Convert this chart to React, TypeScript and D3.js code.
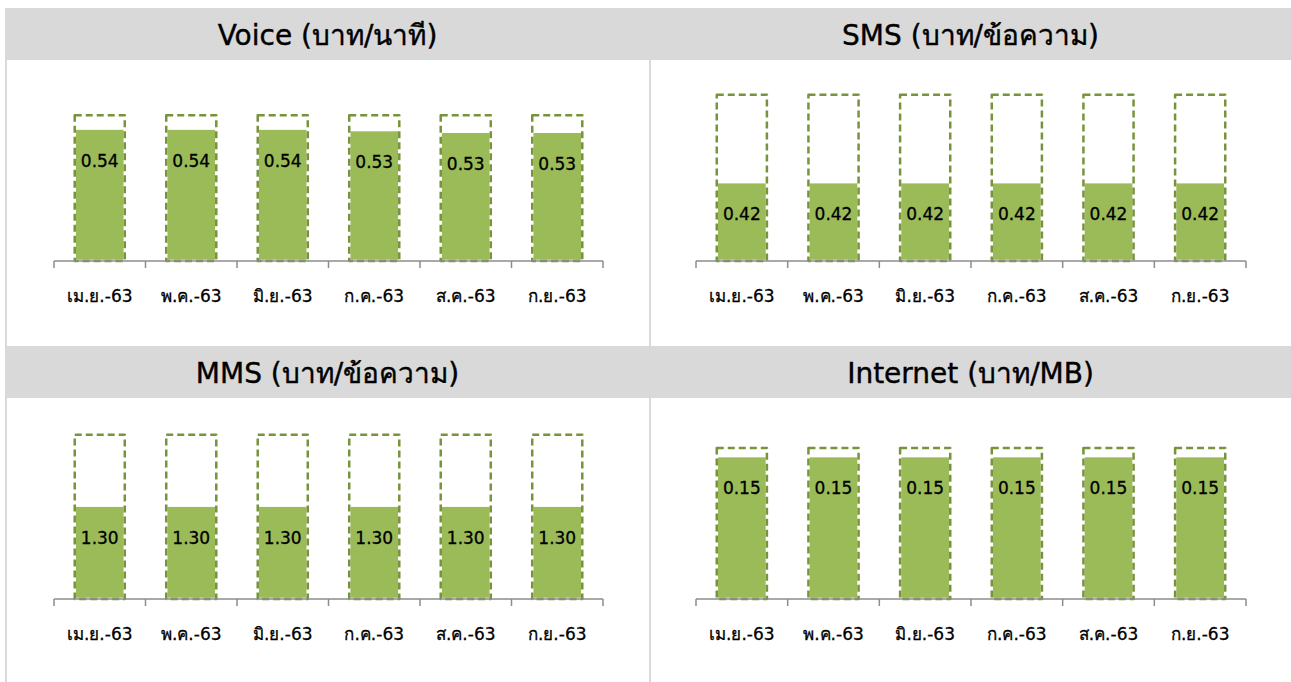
import React from 'react';
import * as d3 from 'd3';

// months (Thai Buddhist calendar, 2563)
const months = ['เม.ย.-63', 'พ.ค.-63', 'มิ.ย.-63', 'ก.ค.-63', 'ส.ค.-63', 'ก.ย.-63'];

const panelTitles = ['Voice (บาท/นาที)', 'SMS (บาท/ข้อความ)', 'MMS (บาท/ข้อความ)', 'Internet (บาท/MB)'];

// average rate per month
const voiceRates = [0.54, 0.54, 0.54, 0.534, 0.527, 0.527];
const smsRates = [0.42, 0.42, 0.42, 0.42, 0.42, 0.42];
const mmsRates = [1.30, 1.30, 1.30, 1.30, 1.30, 1.30];
const internetRates = [0.15, 0.15, 0.15, 0.15, 0.15, 0.15];

// ceiling rate (dashed outline)
const ceilings = [0.60, 0.90, 2.32, 0.16];

// hidden value axis maximum of each small chart
const axisMax = [0.70, 0.92, 2.40, 0.18];

const rates = [voiceRates, smsRates, mmsRates, internetRates];

const W = 1291;
const H = 682;
const FONT = "'DejaVu Sans', 'Liberation Sans', sans-serif";
const GREEN = '#9bbb59';
const OLIVE = '#77933c';
const GRID = '#d9d9d9';

interface PanelProps {
    idx: number;
    x0: number;
    x1: number;
    y0: number;
}

const Panel: React.FC<PanelProps> = ({ idx, x0, x1, y0 }) => {
    const isLeft = idx % 2 === 0;
    const axisLeft = isLeft ? 54 : 696;
    const axisRight = isLeft ? 603 : 1246;
    const baseline = y0 + 253;
    const plotH = 170;

    const x = d3.scaleBand<string>()
        .domain(months)
        .range([axisLeft, axisRight])
        .paddingInner(0.453)
        .paddingOuter(0.2265);

    const y = d3.scaleLinear()
        .domain([0, axisMax[idx]])
        .range([baseline, baseline - plotH]);

    const step = x.step();
    const tickXs = d3.range(months.length + 1).map(i => axisLeft + i * step);
    const cap = ceilings[idx];

    return (
        <g>
            {/* header */}
            <rect x={x0} y={y0} width={x1 - x0} height={52} fill={GRID} />
            <text
                x={(x0 + x1) / 2}
                y={y0 + 27}
                textAnchor="middle"
                dominantBaseline="central"
                fontSize={28}
                fill="#000"
                stroke="#000"
                strokeWidth={0.4}
            >
                {panelTitles[idx]}
            </text>

            {/* bars */}
            {rates[idx].map((v, i) => {
                const bx = x(months[i]) as number;
                const bw = x.bandwidth();
                return (
                    <g key={i}>
                        <rect x={bx} y={y(v)} width={bw} height={baseline - y(v)} fill={GREEN} />
                        <rect x={bx} y={y(cap)} width={bw} height={baseline - y(cap)}
                            fill="none" stroke="#fff" strokeWidth={2.5} />
                        <rect x={bx} y={y(cap)} width={bw} height={baseline - y(cap)}
                            fill="none" stroke={OLIVE} strokeWidth={2.5}
                            strokeDasharray="7,4" strokeLinejoin="round" />
                        <text
                            x={bx + bw / 2}
                            y={y(v) + 31}
                            textAnchor="middle"
                            dominantBaseline="central"
                            fontSize={17}
                            fill="#000"
                            stroke="#000"
                            strokeWidth={0.3}
                        >
                            {v.toFixed(2)}
                        </text>
                    </g>
                );
            })}

            {/* category axis */}
            <line x1={axisLeft} x2={axisRight} y1={baseline} y2={baseline} stroke="#8c8c8c" strokeWidth={1.5} />
            {tickXs.map((tx, i) => (
                <line key={i} x1={tx} x2={tx} y1={baseline} y2={baseline + 7} stroke="#8c8c8c" strokeWidth={1.5} />
            ))}
            {months.map(m => (
                <text
                    key={m}
                    x={(x(m) as number) + x.bandwidth() / 2}
                    y={baseline + 35}
                    textAnchor="middle"
                    dominantBaseline="central"
                    fontSize={17}
                    fill="#000"
                    stroke="#000"
                    strokeWidth={0.3}
                >
                    {m}
                </text>
            ))}
        </g>
    );
};

const App: React.FC = () => {
    document.body.style.margin = '0';

    return (
        <svg width={W} height={H} style={{ display: 'block', fontFamily: FONT, background: '#fff' }}>
            {/* panel frame lines */}
            <line x1={6} x2={6} y1={60} y2={346} stroke={GRID} strokeWidth={2} />
            <line x1={6} x2={6} y1={398} y2={H} stroke={GRID} strokeWidth={2} />
            <line x1={650} x2={650} y1={60} y2={346} stroke={GRID} strokeWidth={2} />
            <line x1={650} x2={650} y1={398} y2={H} stroke={GRID} strokeWidth={2} />

            <Panel idx={0} x0={5} x1={650} y0={8} />
            <Panel idx={1} x0={650} x1={W} y0={8} />
            <Panel idx={2} x0={5} x1={650} y0={346} />
            <Panel idx={3} x0={650} x1={W} y0={346} />
        </svg>
    );
};

export default App;
